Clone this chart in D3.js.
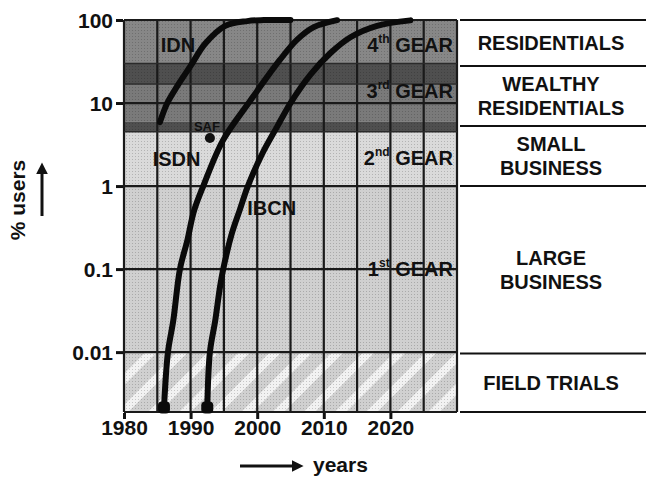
<!DOCTYPE html>
<html><head><meta charset="utf-8">
<script src="https://cdn.jsdelivr.net/npm/d3@7"></script>
<style>
body{margin:0;background:#fff}
svg{display:block}
text{font-family:"Liberation Sans",Arial,Helvetica,sans-serif;font-weight:bold;fill:#111}
</style>
</head><body>
<svg id="c" width="646" height="477"></svg>
<script>
// ---- data ----
const xTicks = [1980, 1990, 2000, 2010, 2020];
const yTicks = [100, 10, 1, 0.1, 0.01];
const yTickLabels = ["100", "10", "1", "0.1", "0.01"];

const idnYears  = [1985.4, 1986.5, 1988, 1990, 1992.2, 1995.2, 1998.5, 2001, 2005];
const idnValues = [5.9, 10, 16, 28, 52, 85, 97, 99.7, 100];

const isdnYears  = [1986, 1986.6, 1987.4, 1988.4, 1989.5, 1990.5, 1991.9, 1994.9, 1998.9, 2003.4, 2006, 2008.5, 2012];
const isdnValues = [0.0021, 0.01, 0.024, 0.1, 0.22, 0.5, 1, 3.6, 10.5, 33, 58, 82, 99.5];

const ibcnYears  = [1992.5, 1992.9, 1993.7, 1994.4, 1994.9, 1996.2, 1997.4, 1998.6, 2000.7, 2003, 2005, 2008, 2011, 2014, 2018, 2023];
const ibcnValues = [0.0021, 0.01, 0.024, 0.06, 0.1, 0.27, 0.52, 1, 2.4, 5.2, 10, 22, 40, 62, 85, 99];

const safYear = 1992.9, safValue = 3.8;

const bandTops    = [100, 30, 17, 6, 4.5, 1, 0.01];
const bandBottoms = [30, 17, 6, 4.5, 1, 0.01, 0.0019];
const bandFills   = ["#878787", "#4f4f4f", "#7a7a7a", "#4f4f4f", "#dadada", "#d0d0d0", "#d6d6d6"];

const segmentLimits = [100, 28, 5.3, 1, 0.0096, 0.0019];
const segmentLabels = [["RESIDENTIALS"], ["WEALTHY", "RESIDENTIALS"], ["SMALL", "BUSINESS"], ["LARGE", "BUSINESS"], ["FIELD  TRIALS"]];

const gearNums   = ["4", "3", "2", "1"];
const gearSups   = ["th", "rd", "nd", "st"];
const gearValues = [50, 14, 2.2, 0.1];

// ---- chart ----
const svg = d3.select("#c");
const x = d3.scaleLinear().domain([1980, 2030]).range([124, 457]);
const y = d3.scaleLog().domain([100, 0.0019]).range([20, 412]);

const defs = svg.append("defs");
const stripes = defs.append("pattern").attr("id", "stripes")
  .attr("patternUnits", "userSpaceOnUse").attr("width", 22).attr("height", 22)
  .attr("patternTransform", "rotate(45)");
stripes.append("rect").attr("width", 22).attr("height", 22).attr("fill", "#d0d0d0");
stripes.append("rect").attr("width", 8).attr("height", 22).attr("fill", "#f2f2f2");

const dots = defs.append("pattern").attr("id", "dots")
  .attr("patternUnits", "userSpaceOnUse").attr("width", 3).attr("height", 3);
dots.append("rect").attr("width", 1).attr("height", 1).attr("fill", "#000").attr("opacity", 0.18);

// background bands
const plot = svg.append("g");
plot.selectAll("rect.band").data(bandTops).join("rect")
  .attr("class", "band")
  .attr("x", x(1980)).attr("width", x(2030) - x(1980))
  .attr("y", d => y(d))
  .attr("height", (d, i) => y(bandBottoms[i]) - y(d))
  .attr("fill", (d, i) => i === bandTops.length - 1 ? "url(#stripes)" : bandFills[i]);
plot.append("rect")
  .attr("x", x(1980)).attr("width", x(2030) - x(1980))
  .attr("y", y(100)).attr("height", y(0.0019) - y(100))
  .attr("fill", "url(#dots)");

// grid
const vgrid = d3.range(1980, 2031, 5);
plot.selectAll("line.vg").data(vgrid).join("line")
  .attr("x1", d => x(d)).attr("x2", d => x(d))
  .attr("y1", y(100)).attr("y2", y(0.0019))
  .attr("stroke", "#1a1a1a").attr("stroke-width", 2.2);
plot.selectAll("line.hg").data(yTicks.concat([0.0019])).join("line")
  .attr("x1", x(1980)).attr("x2", x(2030))
  .attr("y1", d => y(d)).attr("y2", d => y(d))
  .attr("stroke", "#1a1a1a").attr("stroke-width", 2.2);
plot.selectAll("line.hg2").data([30, 17, 4.5]).join("line")
  .attr("x1", x(1980)).attr("x2", x(2030))
  .attr("y1", d => y(d)).attr("y2", d => y(d))
  .attr("stroke", "#2a2a2a").attr("stroke-width", 1.5);

// axes
const yAxis = d3.axisLeft(y).tickValues(yTicks).tickFormat((d, i) => yTickLabels[i]).tickSize(7).tickPadding(3);
const gy = svg.append("g").attr("transform", `translate(${x(1980) - 1},0)`).call(yAxis);
gy.select(".domain").remove();
gy.selectAll(".tick line").attr("stroke", "#111").attr("stroke-width", 3);
gy.selectAll(".tick text").attr("font-size", 21).attr("fill", "#111").attr("dy", "0.35em");

const xAxis = d3.axisBottom(x).tickValues(xTicks).tickFormat(d3.format("d")).tickSize(6).tickPadding(1);
const gx = svg.append("g").attr("transform", `translate(0,${y(0.0019) + 1})`).call(xAxis);
gx.select(".domain").remove();
gx.selectAll(".tick line").attr("stroke", "#111").attr("stroke-width", 3);
gx.selectAll(".tick text").attr("font-size", 21).attr("fill", "#111");

// gear labels
gearValues.forEach((v, i) => {
  const t = svg.append("text").attr("x", 453).attr("y", y(v)).attr("dy", "0.35em")
    .attr("text-anchor", "end").attr("font-size", 20).attr("fill", "#111");
  t.append("tspan").text(gearNums[i]);
  t.append("tspan").attr("font-size", 12).attr("dy", "-0.75em").text(gearSups[i]);
  t.append("tspan").attr("dy", "0.45em").text(" GEAR");
});

// curves
const line = d3.line().x(d => x(d[0])).y(d => y(d[1])).curve(d3.curveCatmullRom.alpha(0.5));
const series = [
  d3.zip(idnYears, idnValues),
  d3.zip(isdnYears, isdnValues),
  d3.zip(ibcnYears, ibcnValues)
];
svg.selectAll("path.curve").data(series).join("path")
  .attr("d", line).attr("fill", "none").attr("stroke", "#0a0a0a")
  .attr("stroke-width", 6).attr("stroke-linecap", "round").attr("stroke-linejoin", "round");

// start markers
svg.selectAll("rect.start").data([series[1][0], series[2][0]]).join("rect")
  .attr("x", d => x(d[0]) - 6).attr("y", d => y(d[1]) - 7)
  .attr("width", 12).attr("height", 12).attr("rx", 4).attr("fill", "#0a0a0a");
svg.append("circle").attr("cx", x(safYear)).attr("cy", y(safValue)).attr("r", 5).attr("fill", "#111");

// curve labels
const curveLabels = [["IDN", 1985.5, 50, "#262626"], ["ISDN", 1984.3, 2.1, "#262626"], ["IBCN", 1998.5, 0.55, "#262626"], ["SAF", 1990.5, 5.2, "#333333"]];
curveLabels.forEach(([t, yr, v, c], i) => {
  svg.append("text").attr("x", x(yr)).attr("y", y(v)).attr("dy", "0.35em")
    .attr("font-size", i === 3 ? 13 : 20).attr("fill", c).text(t);
});

// right segments
const segG = svg.append("g");
segG.selectAll("line").data(segmentLimits).join("line")
  .attr("x1", 460).attr("x2", 646).attr("y1", d => y(d)).attr("y2", d => y(d))
  .attr("stroke", "#111").attr("stroke-width", 2);
segmentLabels.forEach((lines, i) => {
  const mid = (y(segmentLimits[i]) + y(segmentLimits[i + 1])) / 2;
  const n = lines.length;
  lines.forEach((s, j) => {
    segG.append("text").attr("x", 551).attr("y", mid + (j - (n - 1) / 2) * 24).attr("dy", "0.36em")
      .attr("text-anchor", "middle").attr("font-size", 20).attr("fill", "#111").text(s);
  });
});

// axis titles with arrows
defs.append("marker").attr("id", "ah").attr("viewBox", "0 0 10 10").attr("refX", 2).attr("refY", 5)
  .attr("markerWidth", 4).attr("markerHeight", 4).attr("orient", "auto")
  .append("path").attr("d", "M0,0L10,5L0,10z").attr("fill", "#111");
svg.append("text").attr("transform", "translate(25,200) rotate(-90)")
  .attr("text-anchor", "middle").attr("font-size", 21).text("% users");
svg.append("line").attr("x1", 42).attr("x2", 42).attr("y1", 216).attr("y2", 172)
  .attr("stroke", "#111").attr("stroke-width", 3).attr("marker-end", "url(#ah)");
svg.append("line").attr("x1", 240).attr("x2", 294).attr("y1", 466).attr("y2", 466)
  .attr("stroke", "#111").attr("stroke-width", 3).attr("marker-end", "url(#ah)");
svg.append("text").attr("x", 313).attr("y", 472).attr("font-size", 21).text("years");
</script>
</body></html>
